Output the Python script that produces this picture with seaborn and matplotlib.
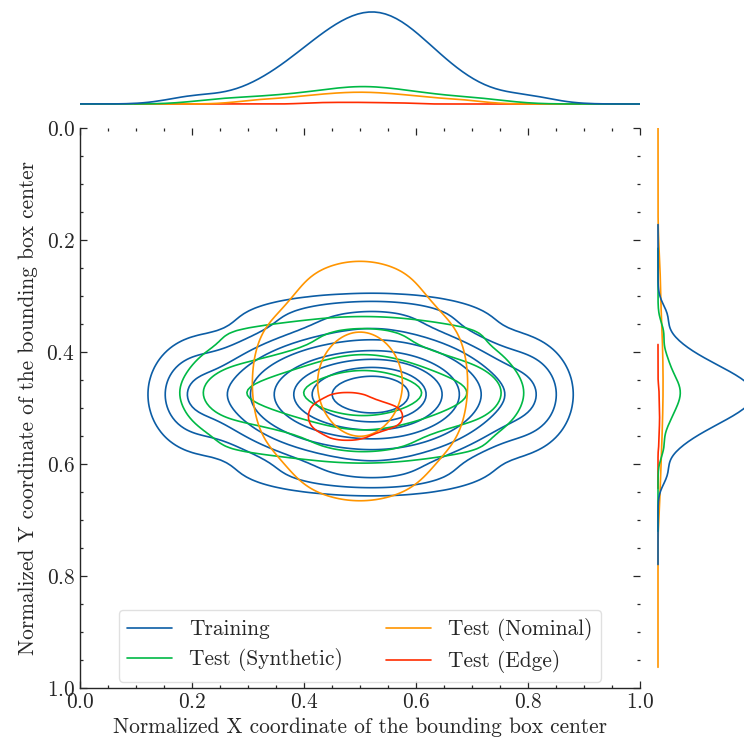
import numpy as np
import pandas as pd
import matplotlib
matplotlib.use("Agg")
import matplotlib.pyplot as plt
from matplotlib.lines import Line2D
from matplotlib.ticker import MultipleLocator
import seaborn as sns

# ---- data (quantile points read from the marginals / contours) ----
groups = ["Training", "Test (Synthetic)", "Test (Nominal)", "Test (Edge)"]
colors = ["#0C5DA5", "#00B945", "#FF9500", "#FF2C00"]
# how many times each group's quantile grid is counted (sets group sizes)
group_copies = [4, 6, 5, 1]

train_x = [0.205, 0.295, 0.339, 0.364, 0.385, 0.402, 0.416, 0.429, 0.441, 0.452,
           0.463, 0.473, 0.483, 0.492, 0.501, 0.510, 0.519, 0.528, 0.536, 0.545,
           0.554, 0.563, 0.572, 0.582, 0.594, 0.605, 0.618, 0.633, 0.652, 0.675,
           0.715, 0.797]
train_y = [0.335, 0.376, 0.396, 0.408, 0.417, 0.425, 0.431, 0.437, 0.443, 0.448,
           0.452, 0.457, 0.461, 0.466, 0.470, 0.474, 0.478, 0.482, 0.487, 0.491,
           0.495, 0.500, 0.505, 0.510, 0.515, 0.521, 0.528, 0.535, 0.545, 0.556,
           0.576, 0.617]
synth_x = [0.25, 0.325, 0.38, 0.425, 0.46, 0.485, 0.51, 0.535, 0.565, 0.60, 0.65, 0.72]
synth_y = [0.365, 0.405, 0.428, 0.445, 0.457, 0.467, 0.476, 0.486, 0.498, 0.512, 0.532, 0.57]
nominal_x = [0.32, 0.385, 0.425, 0.458, 0.487, 0.513, 0.542, 0.575, 0.615, 0.68]
nominal_y = [0.255, 0.325, 0.37, 0.406, 0.439, 0.471, 0.503, 0.54, 0.582, 0.645]
edge_x = [0.41, 0.44, 0.465, 0.49, 0.515, 0.545, 0.58]
edge_y = [0.47, 0.492, 0.508, 0.522, 0.538, 0.56]

xs = [train_x, synth_x, nominal_x, edge_x]
ys = [train_y, synth_y, nominal_y, edge_y]

rows = []
for g, gx, gy, k in zip(groups, xs, ys, group_copies):
    for _ in range(k):
        for xv in gx:
            for yv in gy:
                rows.append((g, xv, yv))
df = pd.DataFrame(rows, columns=["group", "x", "y"])

# ---- style ----
sns.set_style("ticks")
plt.rcParams["font.family"] = ["cmr10", "DejaVu Serif"]
plt.rcParams["mathtext.fontset"] = "cm"
plt.rcParams["axes.formatter.use_mathtext"] = True
plt.rcParams["font.size"] = 15.4
plt.rcParams["axes.unicode_minus"] = False

W = 744.0
fig = plt.figure(figsize=(7.44, 7.44), dpi=100)
ax = fig.add_axes([80 / W, 56 / W, 560 / W, 560 / W])
ax_top = fig.add_axes([80 / W, (W - 112) / W, 560 / W, 112 / W], sharex=ax)
ax_right = fig.add_axes([650 / W, 56 / W, 94 / W, 560 / W], sharey=ax)

pal = dict(zip(groups, colors))

sns.kdeplot(data=df, x="x", y="y", hue="group", hue_order=groups,
            palette=pal, levels=10, thresh=0.05, common_norm=True,
            bw_method=0.4, cut=30, clip=((0, 1), (0, 1)),
            linewidths=1.2, ax=ax, legend=False)
sns.kdeplot(data=df, x="x", hue="group", hue_order=groups,
            palette=pal, common_norm=True, linewidth=1.2, cut=14,
            bw_method=0.4, ax=ax_top, legend=False)
sns.kdeplot(data=df, y="y", hue="group", hue_order=groups,
            palette=pal, common_norm=True, linewidth=1.2, cut=8,
            bw_method=0.35, ax=ax_right, legend=False)

ax.set_xlim(0, 1)
ax.set_ylim(1, 0)
ax.xaxis.set_major_locator(MultipleLocator(0.2))
ax.xaxis.set_minor_locator(MultipleLocator(0.05))
ax.yaxis.set_major_locator(MultipleLocator(0.2))
ax.yaxis.set_minor_locator(MultipleLocator(0.05))
ax.tick_params(which="both", direction="in", top=True, right=True, width=0.9)
ax.tick_params(which="major", length=5)
ax.tick_params(which="minor", length=2.2)
for s in ["top", "right"]:
    ax.spines[s].set_visible(False)
for s in ["left", "bottom"]:
    ax.spines[s].set_linewidth(1.0)
ax.set_xlabel("Normalized X coordinate of the bounding box center", labelpad=4)
ax.set_ylabel("Normalized Y coordinate of the bounding box center", labelpad=6)

# marginal scaling
top_peak = max(l.get_ydata().max() for l in ax_top.get_lines())
ax_top.set_ylim(-8 / 92 * top_peak, top_peak * (1 + 12 / 92))
ax_top.axis("off")

right_max = max(l.get_xdata().max() for l in ax_right.get_lines())
ax_right.set_xlim(-8 / 86 * right_max * 0.9, right_max * 0.9)
ax_right.axis("off")

handles = [Line2D([], [], color=c, lw=1.2) for c in colors]
ax.legend(handles, groups, ncol=2, loc="lower center", handlelength=2.1,
          columnspacing=2.0, labelspacing=0.4, borderaxespad=0.3,
          fancybox=True, framealpha=0.8, edgecolor="0.85")

fig.savefig("out.png", dpi=100)
